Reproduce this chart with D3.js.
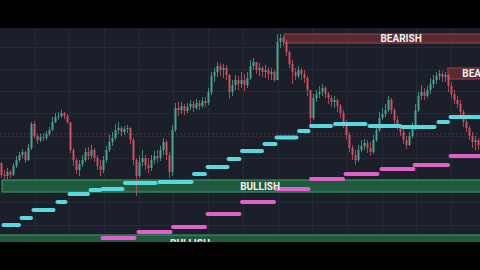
<!DOCTYPE html>
<html><head><meta charset="utf-8">
<script src="https://cdn.jsdelivr.net/npm/d3@7/dist/d3.min.js"></script>
<style>html,body{margin:0;padding:0;background:#000;}svg{display:block;}</style>
</head><body>
<svg id="c" width="480" height="270"></svg>
<script>
// ---- data (price units) ----
const firstOpen = 107;
const closes = [95,94,98,95,104,110,115,118,110,122,146,134,130,133,132,136,140,148,153,154,157,154,148,120,110,100,106,110,118,114,120,112,104,100,110,120,128,132,140,142,138,141,142,130,110,94,108,112,105,102,110,114,112,120,128,115,98,140,162,160,164,159,163,166,162,167,164,169,167,178,194,198,204,200,202,195,178,185,190,186,190,185,192,204,208,200,202,198,200,196,198,190,228,232,228,218,206,198,194,200,196,192,180,152,172,176,178,182,176,172,168,170,164,157,148,135,122,115,110,120,124,127,122,118,130,140,152,156,160,170,160,150,144,138,130,125,134,142,160,174,178,174,180,186,190,194,196,193,195,184,176,170,166,158,148,142,134,128,130,125];
const highs = [108,100,102,100,107,114,118,121,119,126,148,149,136,136,137,139,143,153,157,158,160,158,156,140,122,112,110,115,122,123,125,122,115,110,114,124,135,138,146,148,144,144,145,143,132,112,114,120,115,112,115,119,120,124,132,130,118,145,167,168,168,166,167,170,169,171,170,173,173,182,198,202,208,207,206,205,196,190,195,194,198,196,198,210,212,206,207,204,205,203,202,200,236,236,234,230,220,210,202,204,202,200,194,180,176,180,184,186,184,178,175,174,171,166,160,150,138,125,120,125,130,131,130,128,135,144,158,162,166,174,172,162,154,146,142,134,138,148,166,178,185,182,184,192,195,198,200,199,198,196,188,180,174,170,160,152,144,138,134,132];
const lows = [92,90,91,92,94,102,108,112,107,109,120,132,126,128,129,130,134,139,147,150,152,151,146,117,104,96,94,103,108,110,111,108,100,94,97,107,118,124,130,136,134,135,137,126,105,74,92,104,100,97,99,106,107,109,115,110,92,94,138,154,156,155,157,160,158,160,160,162,163,165,175,188,193,194,192,190,171,174,180,180,182,179,182,190,200,196,194,193,192,190,190,188,190,222,224,214,202,186,190,192,190,187,174,144,150,168,172,174,172,166,163,162,158,152,142,130,118,110,105,108,118,120,117,114,116,128,138,150,153,158,156,146,140,134,126,121,124,132,140,158,170,170,172,176,182,186,190,188,188,178,172,166,162,152,143,138,130,122,120,120];

// support/trail steps (candle index start, end, price level)
const cyanStart = [0,6,10,18,22,29,33,40.5,52,63.5,68,75,79.5,87,91,98.5,102.5,110.5,122,133,145,149];
const cyanEnd   = [6.5,10.5,18,22,29.5,33.5,41,52,64,68.5,76,80,87.5,92,99,103,110.5,122,133.5,145,149.5,160];
const cyanLevel = [45,52,60,68,76,80,81,87,88,96,103,111,119,126,132.5,139,144,146,144,143,148,153];

const pinkStart = [33,45,56.5,68,79.5,91,102.5,114,126,137,149];
const pinkEnd   = [45,57,68.5,80,91.5,103,114.5,126,138,149.5,160];
const pinkLevel = [32,38,43,56,68,81,91,96,101,105,114];

// zones
const zoneLabel  = ["BULLISH","BULLISH","BEARISH","BEARISH"];
const zoneStart  = [0.2,-46.5,94.2,148.8];
const zoneEnd    = [172.2,172.2,172.2,172.2];
const zoneTop    = [90,35,236,202];
const zoneBottom = [78,18,227,191];

const gridPrices = [45,68,90,112,134,157,179,201,223];
const gridIdx = [11,22.6,34.2,45.8,57.3,68.9,80.5,92,103.6,115.2,126.7,138.3,149.9];
const lastPriceLine = 136;

// ---- drawing ----
const svg = d3.select("#c");
const W = 480, H = 270, plotTop = 28, plotBottom = 242;
const x = d3.scaleLinear().domain([0, 159]).range([1.5, 478.5]);
const y = d3.scaleLinear().domain([28, 242]).range([plotBottom, plotTop]);

svg.append("rect").attr("width",W).attr("height",H).attr("fill","#000");
const defs = svg.append("defs");
defs.append("clipPath").attr("id","pc").append("rect").attr("x",0).attr("y",plotTop).attr("width",W).attr("height",plotBottom-plotTop);
const g = svg.append("g").attr("clip-path","url(#pc)");
g.append("rect").attr("x",0).attr("y",plotTop).attr("width",W).attr("height",plotBottom-plotTop).attr("fill","#1b1f2a");

g.selectAll(".gh").data(gridPrices).join("line")
  .attr("x1",0).attr("x2",W).attr("y1",d=>Math.round(y(d))+0.5).attr("y2",d=>Math.round(y(d))+0.5)
  .attr("stroke","#252a36").attr("stroke-width",1);
g.selectAll(".gv").data(gridIdx).join("line")
  .attr("y1",plotTop).attr("y2",plotBottom).attr("x1",d=>Math.round(x(d))+0.5).attr("x2",d=>Math.round(x(d))+0.5)
  .attr("stroke","#252a36").attr("stroke-width",1);

g.append("line").attr("x1",0).attr("x2",W).attr("y1",y(lastPriceLine)).attr("y2",y(lastPriceLine))
  .attr("stroke","#7a3a4a").attr("stroke-width",1).attr("stroke-dasharray","2,2").attr("opacity",0.8);

// zones
const zones = zoneLabel.map((l,i)=>({l, s:zoneStart[i], e:zoneEnd[i], t:zoneTop[i], b:zoneBottom[i]}));
g.selectAll(".z").data(zones).join("rect")
  .attr("x",d=>x(d.s)).attr("width",d=>x(d.e)-x(d.s))
  .attr("y",d=>y(d.t)).attr("height",d=>y(d.b)-y(d.t))
  .attr("fill",d=>d.l==="BULLISH"?"#1e5a3e":"#5a2a31")
  .attr("stroke",d=>d.l==="BULLISH"?"#3f8f63":"#8c3f49").attr("stroke-width",1.2);

// candles
const candles = closes.map((c,i)=>{
  const o = i===0 ? firstOpen : closes[i-1];
  return {i, o, c, h: Math.max(highs[i], o, c), l: Math.min(lows[i], o, c)};
});
const up = "#45a68e", dn = "#cf4f5e";
g.selectAll(".wk").data(candles).join("line")
  .attr("x1",d=>x(d.i)).attr("x2",d=>x(d.i))
  .attr("y1",d=>y(d.h)).attr("y2",d=>y(d.l))
  .attr("stroke",d=>d.c>=d.o?up:dn).attr("stroke-width",0.8);
g.selectAll(".bd").data(candles).join("rect")
  .attr("x",d=>x(d.i)-1).attr("width",2)
  .attr("y",d=>y(Math.max(d.o,d.c))).attr("height",d=>Math.max(1,Math.abs(y(d.o)-y(d.c))))
  .attr("fill",d=>d.c>=d.o?up:dn);

// step segments
function steps(starts, ends, levels, color){
  g.append("g").selectAll("line").data(starts.map((s,i)=>({s, e:ends[i], v:levels[i]}))).join("line")
    .attr("x1",d=>x(d.s)+2).attr("x2",d=>x(d.e)-2)
    .attr("y1",d=>y(d.v)).attr("y2",d=>y(d.v))
    .attr("stroke",color).attr("stroke-width",4).attr("stroke-linecap","round");
}
steps(cyanStart, cyanEnd, cyanLevel, "#58d9de");
steps(pinkStart, pinkEnd, pinkLevel, "#de62c9");

// zone labels
g.append("g").selectAll("text").data(zones).join("text")
  .attr("x",d=>(x(d.s)+x(d.e))/2).attr("y",d=>(y(d.t)+y(d.b))/2+3.6)
  .attr("text-anchor","middle").attr("fill","#f2f2f2")
  .attr("font-family","Roboto, 'DejaVu Sans', sans-serif").attr("font-weight",700).attr("font-size",10)
  .text(d=>d.l);

// top/bottom black bands
svg.append("rect").attr("x",0).attr("y",0).attr("width",W).attr("height",plotTop).attr("fill","#000");
svg.append("rect").attr("x",0).attr("y",plotBottom).attr("width",W).attr("height",H-plotBottom).attr("fill","#000");
</script>
</body></html>
